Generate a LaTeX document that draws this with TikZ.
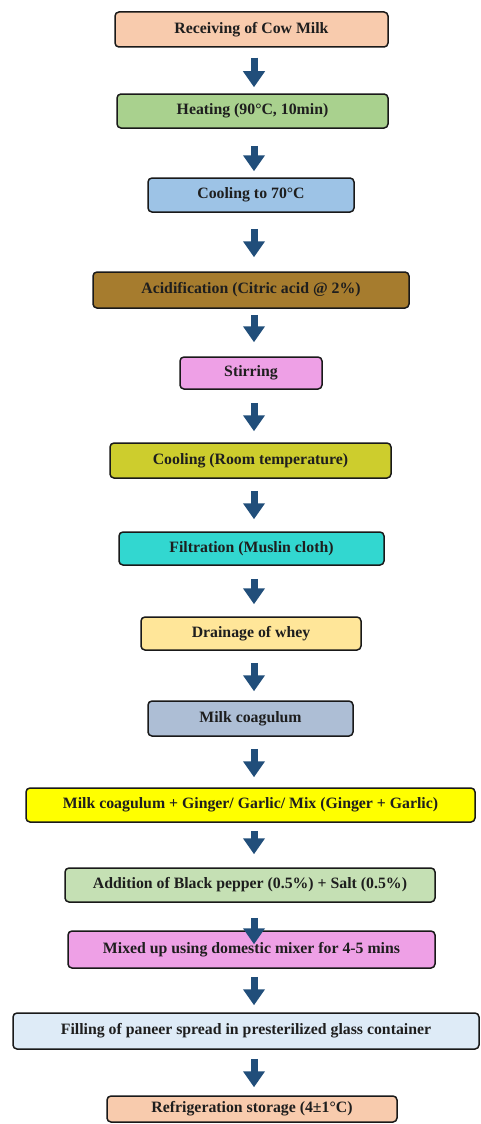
\documentclass[tikz,border=0pt]{standalone}
\usepackage{fontspec}
\setmainfont{Liberation Serif}
\usetikzlibrary{arrows.meta,calc}
\definecolor{cPeach}{RGB}{248,203,173}
\definecolor{cGreen}{RGB}{169,209,142}
\definecolor{cBlue}{RGB}{157,195,230}
\definecolor{cBrown}{RGB}{166,124,46}
\definecolor{cPink}{RGB}{238,160,230}
\definecolor{cOlive}{RGB}{205,205,45}
\definecolor{cTurq}{RGB}{50,215,208}
\definecolor{cLYellow}{RGB}{255,230,153}
\definecolor{cGrayBlue}{RGB}{173,190,213}
\definecolor{cYellow}{RGB}{255,255,0}
\definecolor{cLGreen}{RGB}{197,224,180}
\definecolor{cLBlue}{RGB}{222,235,247}
\definecolor{cArrow}{RGB}{33,78,122}
\definecolor{cEdge}{RGB}{25,25,25}
\definecolor{cText}{RGB}{30,30,30}
\tikzset{
  box/.style={draw=cEdge, line width=1.5pt, rounded corners=4pt, inner sep=0pt,
    text=cText, font=\fontsize{15.8}{18}\selectfont\bfseries, align=center},
  flowarrow/.style={draw=cArrow, line width=7pt,
    -{Triangle[width=21pt,length=16pt,fill=cArrow]}},
}
\begin{document}
\begin{tikzpicture}[x=1pt,y=-1pt]
\useasboundingbox (0,0) rectangle (480,1124);
\coordinate (col) at (254,0);
\node[box, fill=cPeach, minimum width=273pt, minimum height=35pt] (n1) at (251.5,29.5) {Receiving of Cow Milk};
\node[box, fill=cGreen, minimum width=271pt, minimum height=34pt] (n2) at (252.5,111) {Heating (90°C, 10min)};
\node[box, fill=cBlue, minimum width=206pt, minimum height=34pt] (n3) at (251,195) {Cooling to 70°C};
\node[box, fill=cBrown, minimum width=316pt, minimum height=36pt] (n4) at (251,290) {Acidification (Citric acid @ 2\%)};
\node[box, fill=cPink, minimum width=142pt, minimum height=32pt] (n5) at (251,373) {Stirring};
\node[box, fill=cOlive, minimum width=281pt, minimum height=35pt] (n6) at (250.5,460.5) {Cooling (Room temperature)};
\node[box, fill=cTurq, minimum width=265pt, minimum height=33pt] (n7) at (251.5,548.5) {Filtration (Muslin cloth)};
\node[box, fill=cLYellow, minimum width=220pt, minimum height=33pt] (n8) at (251,633.5) {Drainage of whey};
\node[box, fill=cGrayBlue, minimum width=205pt, minimum height=35pt] (n9) at (250.5,718.5) {Milk coagulum};
\node[box, fill=cYellow, minimum width=449pt, minimum height=34pt] (n10) at (250.5,805) {Milk coagulum + Ginger/ Garlic/ Mix (Ginger + Garlic)};
\node[box, fill=cLGreen, minimum width=370pt, minimum height=34pt] (n11) at (250,885) {Addition of Black pepper (0.5\%) + Salt (0.5\%)};
\node[box, fill=cPink, minimum width=367pt, minimum height=37pt] (n12) at (251.5,949.5) {Mixed up using domestic mixer for 4-5 mins};
\node[box, fill=cLBlue, minimum width=466pt, minimum height=36pt] (n13) at (246,1031) {Filling of paneer spread in presterilized glass container};
\node[box, fill=cPeach, minimum width=290pt, minimum height=26pt] (n14) at (252,1109) {Refrigeration storage (4±1°C)};
\draw[flowarrow] ($(n1.south -| col)+(0,10)$) -- ($(n2.north -| col)+(0,-6)$);
\draw[flowarrow] ($(n2.south -| col)+(0,17)$) -- ($(n3.north -| col)+(0,-6)$);
\draw[flowarrow] ($(n3.south -| col)+(0,16)$) -- ($(n4.north -| col)+(0,-14)$);
\draw[flowarrow] ($(n4.south -| col)+(0,6)$) -- ($(n5.north -| col)+(0,-14)$);
\draw[flowarrow] ($(n5.south -| col)+(0,13)$) -- ($(n6.north -| col)+(0,-11)$);
\draw[flowarrow] ($(n6.south -| col)+(0,12)$) -- ($(n7.north -| col)+(0,-12)$);
\draw[flowarrow] ($(n7.south -| col)+(0,13)$) -- ($(n8.north -| col)+(0,-12)$);
\draw[flowarrow] ($(n8.south -| col)+(0,12)$) -- ($(n9.north -| col)+(0,-9)$);
\draw[flowarrow] ($(n9.south -| col)+(0,12)$) -- ($(n10.north -| col)+(0,-10)$);
\draw[flowarrow] ($(n10.south -| col)+(0,8)$) -- ($(n11.north -| col)+(0,-13)$);
\draw[flowarrow] ($(n11.south -| col)+(0,15)$) -- ($(n12.north -| col)+(0,14)$);
\draw[flowarrow] ($(n12.south -| col)+(0,8)$) -- ($(n13.north -| col)+(0,-7)$);
\draw[flowarrow] ($(n13.south -| col)+(0,9)$) -- ($(n14.north -| col)+(0,-8)$);
\end{tikzpicture}
\end{document}
